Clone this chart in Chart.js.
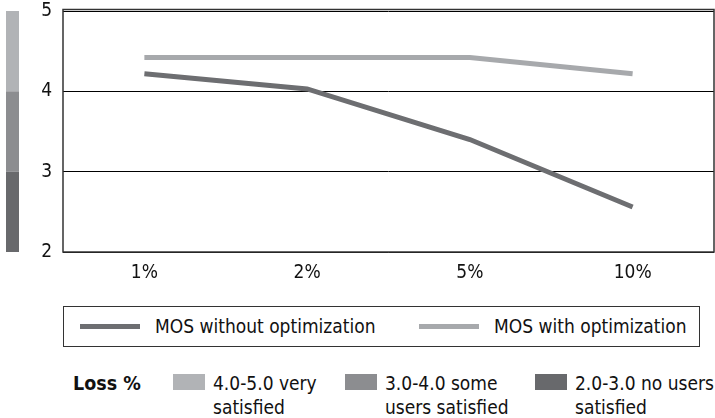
<!DOCTYPE html>
<html><head><meta charset="utf-8">
<script src="https://cdn.jsdelivr.net/npm/chart.js@4"></script>
<style>
html,body{margin:0;padding:0;background:#fff;}
body{font-family:'DejaVu Sans Condensed','DejaVu Sans',sans-serif;color:#111;}
#wrap{position:relative;width:715px;height:418px;overflow:hidden;}
#cv{position:absolute;left:0;top:0;}
#legend{position:absolute;left:63px;top:306px;width:637px;height:41px;border:1.5px solid #333;box-sizing:border-box;}
.li{position:absolute;top:0;height:38px;display:flex;align-items:center;font-size:19px;white-space:nowrap;}
.li .sw{display:inline-block;width:60px;height:5px;margin-right:15px;}
#loss{position:absolute;left:0;top:366px;width:715px;height:52px;font-size:19px;}
#loss .title{position:absolute;left:73px;top:6px;font-weight:bold;font-size:19.5px;}
#loss .item{position:absolute;top:0;}
#loss .item .sw{position:absolute;left:0;top:8px;width:32px;height:16px;}
#loss .item .tx{position:absolute;top:5px;line-height:24px;white-space:nowrap;}
</style></head>
<body>
<div id="wrap">
<canvas id="cv" width="715" height="300"></canvas>
<div id="legend"></div>
<div id="loss"><div class="title">Loss %</div></div>
</div>
<script>
const categories = ['1%', '2%', '5%', '10%'];
const seriesNames = ['MOS without optimization', 'MOS with optimization'];
const mosWithout = [4.22, 4.03, 3.40, 2.56];
const mosWith = [4.42, 4.42, 4.42, 4.22];
const yTicks = [2, 3, 4, 5];
const bandRanges = [[4, 5], [3, 4], [2, 3]];
const bandLabels = [['4.0-5.0 very', 'satisfied'], ['3.0-4.0 some', 'users satisfied'], ['2.0-3.0 no users', 'satisfied']];
const lossTitle = 'Loss %';

const FONT = "'DejaVu Sans Condensed','DejaVu Sans',sans-serif";
const seriesColors = ['#6d6e71', '#a7a9ac'];
const bandColors = ['#b1b3b6', '#8c8d90', '#68696c'];

const bandPlugin = {
  id: 'bands',
  beforeDraw(chart) {
    const y = chart.scales.y, ctx = chart.ctx;
    ctx.save();
    bandRanges.forEach((r, i) => {
      const top = y.getPixelForValue(r[1]), bot = y.getPixelForValue(r[0]);
      ctx.fillStyle = bandColors[i];
      ctx.fillRect(6, top, 13, bot - top);
    });
    ctx.restore();
  },
  afterDatasetsDraw(chart) {
    const a = chart.chartArea, ctx = chart.ctx;
    ctx.save();
    ctx.strokeStyle = '#333';
    ctx.lineWidth = 1.5;
    ctx.strokeRect(a.left, a.top - 1.5, a.right - a.left, a.bottom - a.top + 1.5);
    ctx.restore();
  }
};

const chart = new Chart(document.getElementById('cv'), {
  type: 'line',
  data: {
    labels: categories,
    datasets: [
      {label: seriesNames[0], data: mosWithout, borderColor: seriesColors[0], backgroundColor: seriesColors[0]},
      {label: seriesNames[1], data: mosWith, borderColor: seriesColors[1], backgroundColor: seriesColors[1]}
    ]
  },
  options: {
    responsive: false,
    animation: false,
    layout: {padding: {left: 0, right: 1, top: 11, bottom: 0}},
    elements: {line: {borderWidth: 5, tension: 0, borderCapStyle: 'butt'}, point: {radius: 0}},
    plugins: {legend: {display: false}, tooltip: {enabled: false}},
    scales: {
      x: {
        offset: true,
        grid: {display: false, drawTicks: false},
        border: {display: false},
        ticks: {color: '#111', padding: 10, font: {family: FONT, size: 19}},
        afterFit(s) { s.height = 48; s.paddingLeft = 0; s.paddingRight = 0; }
      },
      y: {
        min: yTicks[0], max: yTicks[yTicks.length - 1],
        afterBuildTicks(s) { s.ticks = yTicks.map(v => ({value: v})); },
        grid: {color: '#000', lineWidth: 1, drawTicks: false},
        border: {display: false},
        ticks: {color: '#111', padding: 11, font: {family: FONT, size: 19}},
        afterFit(s) { s.width = 63; s.paddingTop = 0; s.paddingBottom = 0; }
      }
    }
  },
  plugins: [bandPlugin]
});

// HTML legend built from the chart's datasets
const legendPos = [16, 355];
const legend = document.getElementById('legend');
chart.data.datasets.forEach((ds, i) => {
  const d = document.createElement('div');
  d.className = 'li';
  d.style.left = legendPos[i] + 'px';
  const sw = document.createElement('span');
  sw.className = 'sw';
  sw.style.background = ds.borderColor;
  d.appendChild(sw);
  d.appendChild(document.createTextNode(ds.label));
  legend.appendChild(d);
});

// Loss % key
const lossPos = [173, 345, 535];
const loss = document.getElementById('loss');
loss.querySelector('.title').textContent = lossTitle;
bandLabels.forEach((lines, i) => {
  const it = document.createElement('div');
  it.className = 'item';
  it.style.left = lossPos[i] + 'px';
  const sw = document.createElement('div');
  sw.className = 'sw';
  sw.style.background = bandColors[i];
  const tx = document.createElement('div');
  tx.className = 'tx';
  tx.style.left = '40px';
  tx.innerHTML = lines.join('<br>');
  it.appendChild(sw); it.appendChild(tx);
  loss.appendChild(it);
});
</script>
</body></html>
